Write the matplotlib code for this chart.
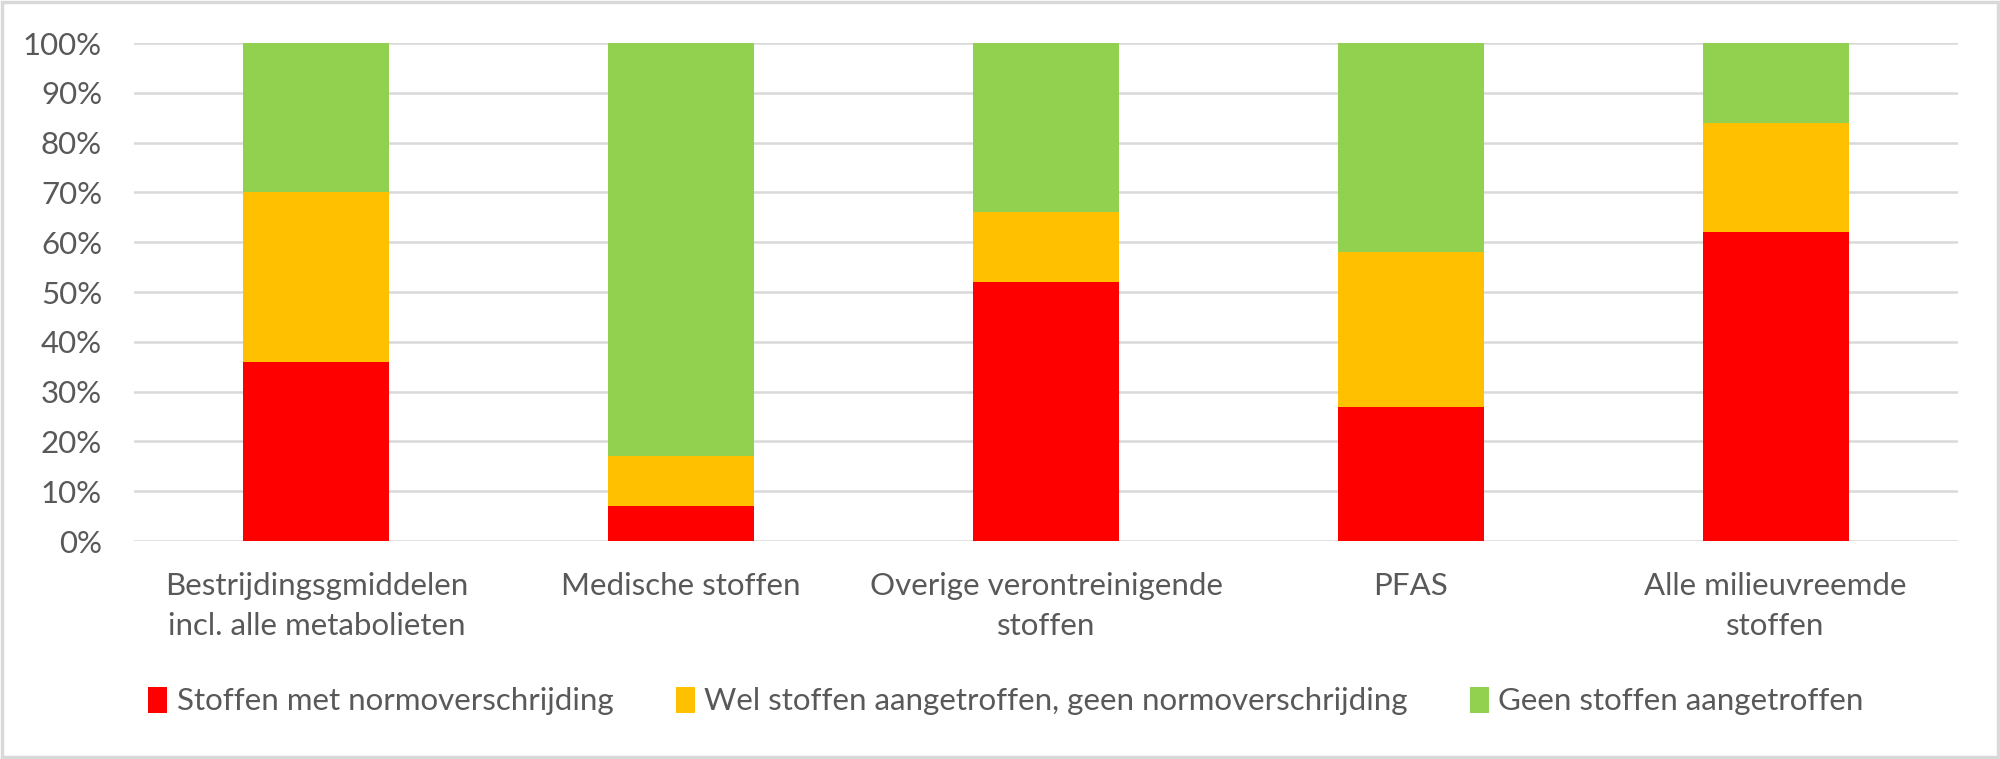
import matplotlib.pyplot as plt
import numpy as np
from matplotlib.patches import Rectangle

plt.rcParams['font.family'] = ['Lato', 'DejaVu Sans']

categories = ["Bestrijdingsgmiddelen\nincl. alle metabolieten", "Medische stoffen",
              "Overige verontreinigende\nstoffen", "PFAS", "Alle milieuvreemde\nstoffen"]
series_names = ["Stoffen met normoverschrijding",
                "Wel stoffen aangetroffen, geen normoverschrijding",
                "Geen stoffen aangetroffen"]
red_vals = [36, 7, 52, 27, 62]
yellow_vals = [34, 10, 14, 31, 22]
green_vals = [30, 83, 34, 42, 16]
colors = ["#FF0000", "#FFC000", "#92D050"]
text_color = "#595959"
grid_color = "#D9D9D9"

fig = plt.figure(figsize=(20, 7.59), dpi=100)
ax = fig.add_axes([0.067, 0.2872, 0.912, 0.6561])

x = np.arange(len(categories))
bottom = np.zeros(len(categories))
for vals, name, col in zip([red_vals, yellow_vals, green_vals], series_names, colors):
    ax.bar(x, vals, width=0.4, bottom=bottom, color=col, label=name, zorder=3)
    bottom += np.array(vals)

ax.set_xlim(-0.5, len(categories) - 0.5)
ax.set_ylim(0, 100)
ax.set_yticks(np.arange(0, 101, 10))
ax.set_yticklabels([f"{v}%" for v in range(0, 101, 10)])
ax.set_xticks(x)
ax.set_xticklabels(categories, linespacing=1.55, va='top')
ax.yaxis.grid(True, color=grid_color, linewidth=1.8, zorder=0)
ax.tick_params(axis='both', length=0, labelsize=22.5, colors=text_color)
ax.tick_params(axis='x', pad=22)
ax.tick_params(axis='y', pad=23)
for s in ax.spines.values():
    s.set_visible(False)

fig.legend(loc='center', bbox_to_anchor=(0.503, 0.0764), ncol=3, frameon=False,
           fontsize=22.5, labelcolor=text_color, handlelength=0.6, handleheight=0.9,
           handletextpad=0.3, columnspacing=2.0)

fig.patches.append(Rectangle((0.001, 0.002), 0.998, 0.996, transform=fig.transFigure,
                             fill=False, edgecolor=grid_color, linewidth=2.5))

fig.savefig("out.png", dpi=100, facecolor="white")
